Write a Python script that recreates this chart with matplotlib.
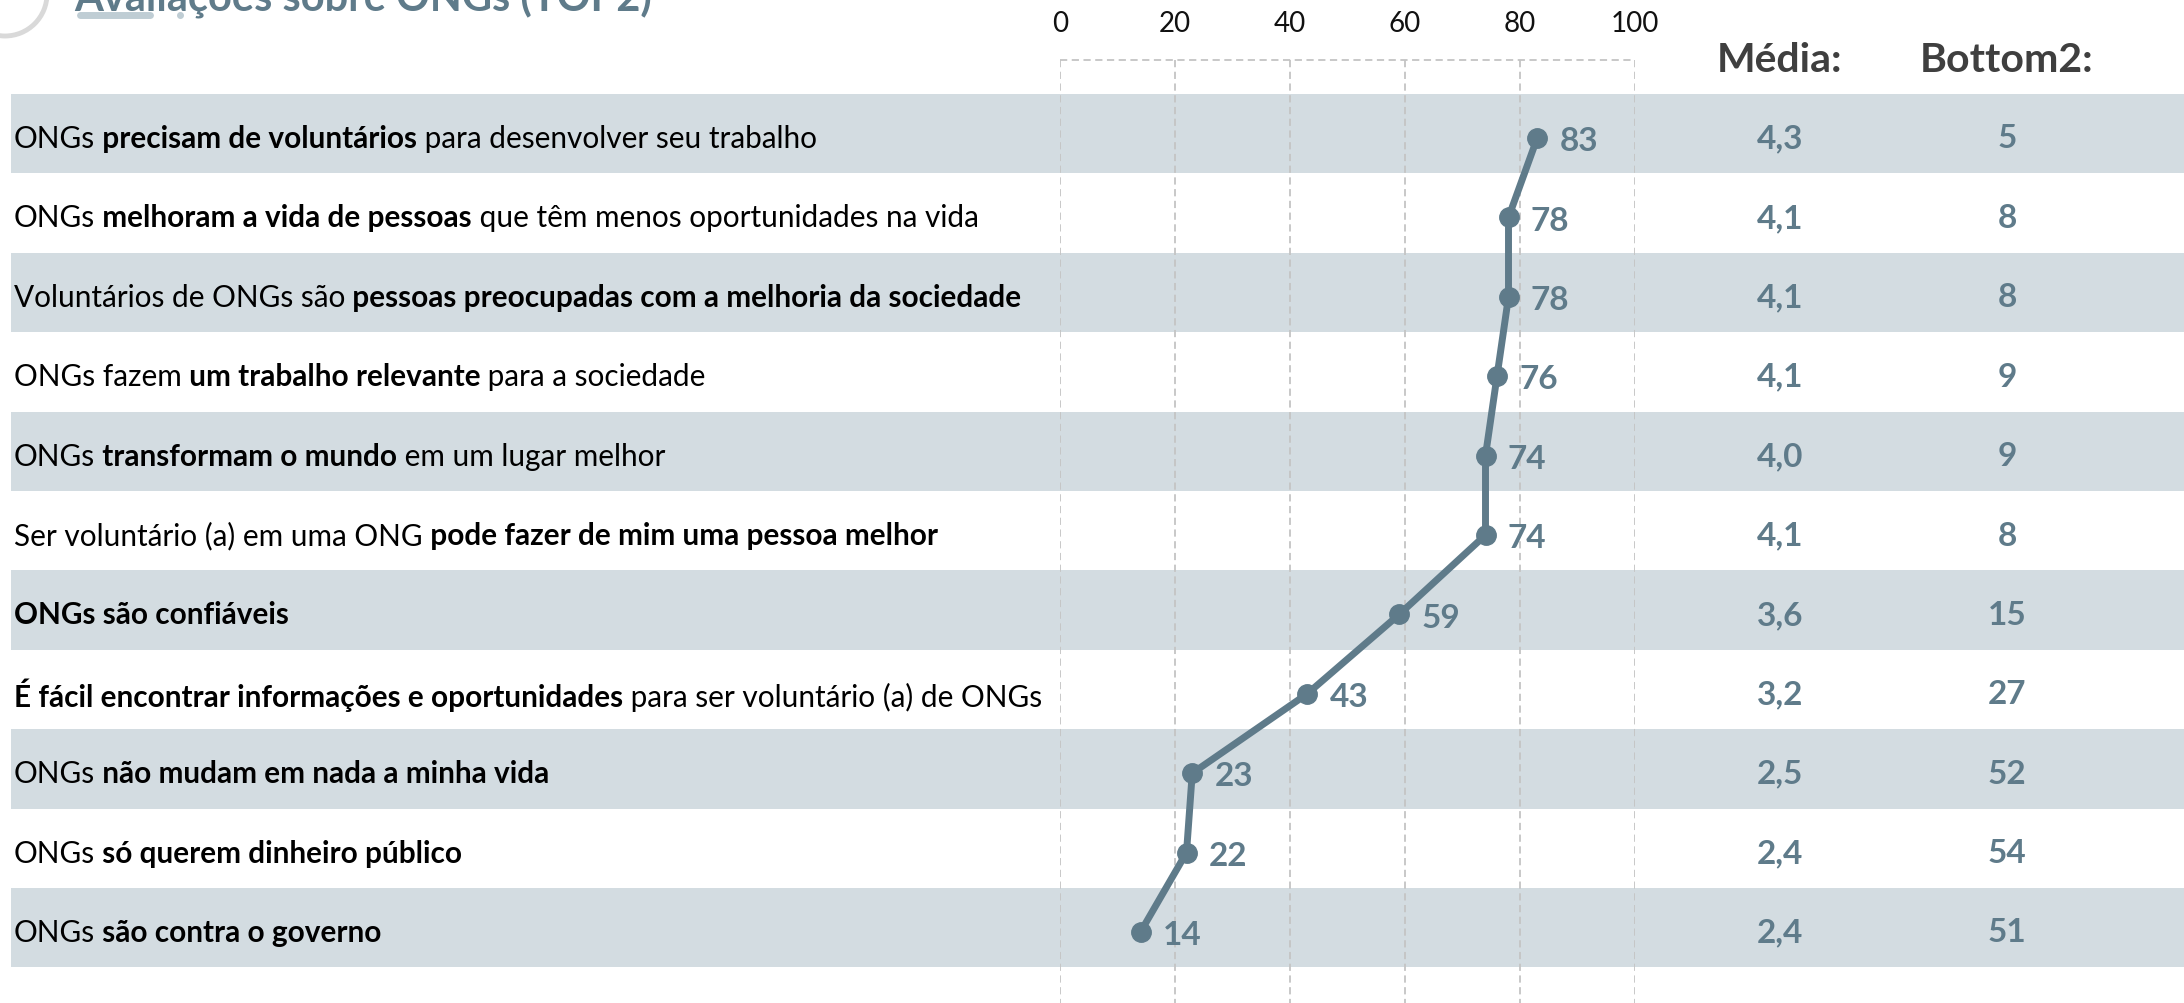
import re
import matplotlib.pyplot as plt
import matplotlib.transforms as mtransforms
from matplotlib.patches import Rectangle, Arc
from matplotlib.lines import Line2D

# statements (bold parts between **)
labels = [
    "ONGs **precisam de voluntários** para desenvolver seu trabalho",
    "ONGs **melhoram a vida de pessoas** que têm menos oportunidades na vida",
    "Voluntários de ONGs são **pessoas preocupadas com a melhoria da sociedade**",
    "ONGs fazem **um trabalho relevante** para a sociedade",
    "ONGs **transformam o mundo** em um lugar melhor",
    "Ser voluntário (a) em uma ONG **pode fazer de mim uma pessoa melhor**",
    "**ONGs são confiáveis**",
    "**É fácil encontrar informações e oportunidades** para ser voluntário (a) de ONGs",
    "ONGs **não mudam em nada a minha vida**",
    "ONGs **só querem dinheiro público**",
    "ONGs **são contra o governo**",
]
top2 = [83, 78, 78, 76, 74, 74, 59, 43, 23, 22, 14]
media = [4.3, 4.1, 4.1, 4.1, 4.0, 4.1, 3.6, 3.2, 2.5, 2.4, 2.4]
bottom2 = [5, 8, 8, 9, 9, 8, 15, 27, 52, 54, 51]
ticks = [0, 20, 40, 60, 80, 100]

W, H = 2184, 1004
slate = '#5f7b8a'
band = '#d3dce1'
grid = '#c4c4c4'

plt.rcParams['font.family'] = ['Lato', 'DejaVu Sans']

fig = plt.figure(figsize=(W / 100, H / 100), dpi=100)
ax = fig.add_axes([1060 / W, 0, 575 / W, 1])
ax.set_xlim(0, 100)
pitch = 79.4
y0 = 139  # pixel row of the first point
ax.set_ylim((H - y0) / pitch, -y0 / pitch)
ax.axis('off')


def py(p):
    # figure pixel row -> data y
    return (p - y0) / pitch


fy = mtransforms.blended_transform_factory(fig.transFigure, ax.transData)
rows = list(range(len(labels)))

# alternating bands
for i in rows:
    if i % 2 == 0:
        ax.add_patch(Rectangle((11 / W, i - 0.555), 1 - 11 / W, 1, transform=fy,
                               facecolor=band, lw=0, zorder=0, clip_on=False))

# dashed grid box
ax.vlines(ticks, py(61), py(H), colors=grid, linestyles=(0, (4, 2.5)), lw=1.3, zorder=1)
ax.hlines(py(61), 0, 100, colors=grid, linestyles=(0, (4, 2.5)), lw=1.3, zorder=1)
for t in ticks:
    ax.text(t, py(24), str(t), ha='center', va='center', fontsize=20, color='#111111')

# the line
ax.plot(top2, rows, color=slate, lw=5, marker='o', ms=14, zorder=3, solid_capstyle='round')
for v, i in zip(top2, rows):
    ax.annotate(str(v), (v, i), xytext=(16, -2), textcoords='offset points', va='center', ha='left',
                fontsize=24, fontweight='bold', color=slate)


def rich(y, s, fs=21.4):
    parts = [p for p in re.split(r'(\*\*.+?\*\*)', s) if p]
    segs = []
    carry = ''
    for p in parts:
        bold = p.startswith('**')
        t = carry + p.strip('*')
        carry = ''
        if t.endswith(' '):
            carry = ' '
            t = t.rstrip()
        segs.append((t, bold))
    prev = ax.text(14 / W, y, segs[0][0], transform=fy, va='center', ha='left', fontsize=fs,
                   fontweight='bold' if segs[0][1] else 'normal', color='black')
    for t, b in segs[1:]:
        prev = ax.annotate(t, xy=(1, 0), xycoords=prev, va='bottom', ha='left', fontsize=fs,
                           fontweight='bold' if b else 'normal', color='black')


for i, s in zip(rows, labels):
    rich(i, s)

# side columns
for x, head in [(1780, 'Média:'), (2007, 'Bottom2:')]:
    ax.text(x / W, py(61), head, transform=fy, ha='center', va='center', fontsize=29.5,
            fontweight='bold', color='#3f3f3f')
for i, m, b in zip(rows, media, bottom2):
    ax.text(1780 / W, i, f'{m:.1f}'.replace('.', ','), transform=fy, ha='center', va='center',
            fontsize=24, fontweight='bold', color=slate)
    ax.text(2007 / W, i, str(b), transform=fy, ha='center', va='center',
            fontsize=24, fontweight='bold', color=slate)

# title, cut by the top edge
fig.text(74 / W, 1 - 11 / H, 'Avaliações sobre ONGs (TOP2)', va='baseline', ha='left',
         fontsize=30, fontweight='bold', color=slate)
fig.add_artist(Line2D([80 / W, 150 / W], [1 - 16 / H, 1 - 16 / H], color='#bfcdd4', lw=5,
                      solid_capstyle='round'))
fig.add_artist(Line2D([180 / W], [1 - 16 / H], color='#bfcdd4', marker='o', ms=4))
fig.add_artist(Arc((5 / W, 1 + 5 / H), 84 / W, 84 / H, color='#d9d9d9', lw=3.5,
                   transform=fig.transFigure))

fig.savefig('out.png', dpi=100)
